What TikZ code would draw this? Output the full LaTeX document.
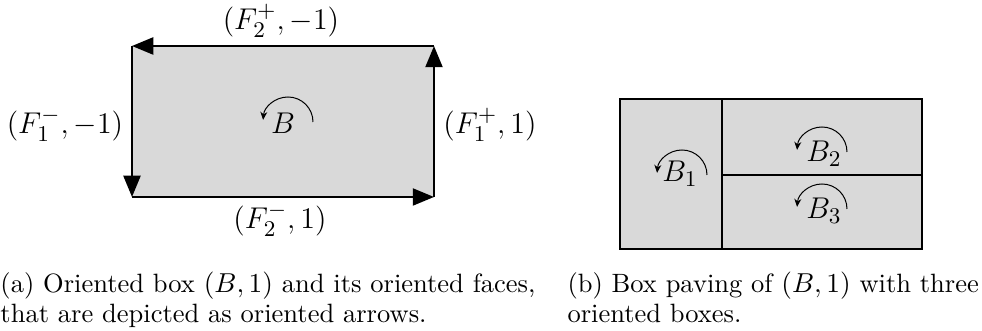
\documentclass[tikz,border=0pt]{standalone}
\usetikzlibrary{arrows.meta}
\tikzset{
  face/.style={line width=0.9pt,-{Triangle[length=8.5pt,width=6.8pt]}},
  turn/.style={line width=0.4pt,-{Stealth[length=3.2pt,width=2.8pt]}},
  lbl/.style={font=\fontsize{12.4}{14}\selectfont},
  subcap/.style={anchor=base west,inner sep=0pt,align=left,font=\fontsize{10.6}{12}\selectfont},
}
\begin{document}
\begin{tikzpicture}[x=0.4pt,y=-0.4pt]
    \useasboundingbox (0,0) rectangle (982,331);
    % (a) oriented box with its faces
    \coordinate (nw) at (132,46);
    \coordinate (ne) at (434,46);
    \coordinate (sw) at (132,197);
    \coordinate (se) at (434,197);
    \fill[black!15] (nw) rectangle (se);
    \draw[face] (ne) -- (nw);
    \draw[face] (nw) -- (sw);
    \draw[face] (sw) -- (se);
    \draw[face] (se) -- (ne);
    \node[lbl] (f2p) at (281,21) {$(F_2^+,-1)$};
    \node[lbl] (f1m) at (65,125) {$(F_1^-,-1)$};
    \node[lbl] (f1p) at (490,125) {$(F_1^+,1)$};
    \node[lbl] (f2m) at (280,220) {$(F_2^-,1)$};
    \node[lbl] (b) at (283,123) {$B$};
    \draw[turn] ([shift={(30,-1)}]b.center) arc[start angle=0,end angle=175,radius=10pt];
    % (b) paving
    \coordinate (pnw) at (620,99);
    \coordinate (pse) at (922,249);
    \coordinate (mt) at (722,99);
    \coordinate (mb) at (722,249);
    \coordinate (ml) at (722,175);
    \coordinate (mr) at (922,175);
    \fill[black!15] (pnw) rectangle (pse);
    \draw[line width=0.9pt] (pnw) rectangle (pse);
    \draw[line width=0.9pt] (mt) -- (mb);
    \draw[line width=0.9pt] (ml) -- (mr);
    \node[lbl] (b1) at (680,174) {$B_1$};
    \node[lbl] (b2) at (824,154) {$B_2$};
    \node[lbl] (b3) at (824,211) {$B_3$};
    \draw[turn] ([shift={(27,1)}]b1.center) arc[start angle=0,end angle=175,radius=10pt];
    \draw[turn] ([shift={(23,-2)}]b2.center) arc[start angle=0,end angle=175,radius=10pt];
    \draw[turn] ([shift={(23,-2)}]b3.center) arc[start angle=0,end angle=175,radius=10pt];
    % captions
    \node[subcap,text width=225pt] (capa) at (0,293)
        {(a) Oriented box $(B,1)$ and its oriented faces,\\ that are depicted as oriented arrows.};
    \node[subcap,text width=170pt] (capb) at (567,293)
        {(b) Box paving of $(B,1)$ with three\\ oriented boxes.};
\end{tikzpicture}
\end{document}
